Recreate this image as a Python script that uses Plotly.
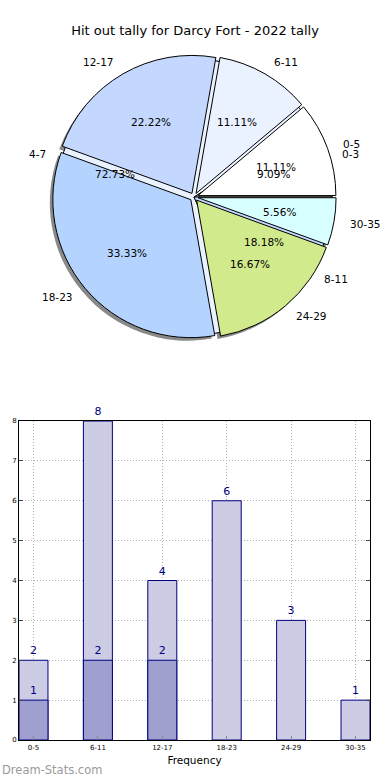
import math
import plotly.graph_objects as go

# ---------------- data ----------------
chart_title = "Hit out tally for Darcy Fort - 2022 tally"

pie1_labels = ["0-5", "6-11", "12-17", "18-23", "24-29", "30-35"]
pie1_values = [2, 2, 4, 6, 3, 1]

pie2_labels = ["0-3", "4-7", "8-11"]
pie2_values = [1, 8, 2]

bar_categories = ["0-5", "6-11", "12-17", "18-23", "24-29", "30-35"]
bar_totals = [2, 8, 4, 6, 3, 1]
bar_sub_categories = ["0-5", "6-11", "12-17"]
bar_sub_values = [1, 2, 2]
y_tick_values = [0, 1, 2, 3, 4, 5, 6, 7, 8]

x_axis_label = "Frequency"
watermark = "Dream-Stats.com"

# ---------------- styling / layout ----------------
W, H = 390, 780
CX, CY, R = 194, 197, 138          # pie centre and radius in pixels
PULL = 0.03
FONT = "DejaVu Sans"
pie_colors = ["#ffffff", "#eaf1ff", "#c4d8ff", "#b4d4ff", "#d0ea8c", "#d8ffff"]
light_bar = "#ccccE4"
dark_bar = "#a0a0d0"
navy = "#000080"


def dom(cx, cy, half):
    return dict(x=[(cx - half) / W, (cx + half) / W],
                y=[1 - (cy + half) / H, 1 - (cy - half) / H])


def mid_angles(values):
    total = sum(values)
    start, mids = 0.0, []
    for v in values:
        span = 360.0 * v / total
        mids.append(start + span / 2)
        start += span
    return mids


def start_rotation(values):
    # plotly (counterclockwise) puts the first slice clockwise of `rotation`;
    # shift so the first slice starts at 3 o'clock like matplotlib
    return 90 - 360.0 * values[0] / sum(values)


fig = go.Figure()

# shadow of the exploded pie
fig.add_trace(go.Pie(
    labels=pie1_labels, values=pie1_values, sort=False,
    direction="counterclockwise", rotation=start_rotation(pie1_values),
    pull=[PULL] * len(pie1_values),
    marker=dict(colors=["rgba(40,40,40,0.55)"] * len(pie1_values), line=dict(width=0)),
    textinfo="none", hoverinfo="skip", showlegend=False,
    domain=dom(CX - 3, CY + 3, R * (1 + PULL)),
))
# second (background) pie
fig.add_trace(go.Pie(
    labels=pie2_labels, values=pie2_values, sort=False,
    direction="counterclockwise", rotation=start_rotation(pie2_values),
    marker=dict(colors=pie_colors[:len(pie2_values)], line=dict(color="black", width=1)),
    textinfo="none", showlegend=False,
    domain=dom(CX, CY, R),
))
# main exploded pie
fig.add_trace(go.Pie(
    labels=pie1_labels, values=pie1_values, sort=False,
    direction="counterclockwise", rotation=start_rotation(pie1_values),
    pull=[PULL] * len(pie1_values),
    marker=dict(colors=pie_colors[:len(pie1_values)], line=dict(color="black", width=1)),
    textinfo="none", showlegend=False,
    domain=dom(CX, CY, R * (1 + PULL)),
))

annotations = []


def pie_texts(labels, values, pull):
    total = sum(values)
    for lab, v, m in zip(labels, values, mid_angles(values)):
        a = math.radians(m)
        c, s = math.cos(a), math.sin(a)
        d = (pull + 1.1) * R
        annotations.append(dict(
            x=(CX + d * c) / W, y=1 - (CY - d * s) / H, xref="paper", yref="paper",
            text=lab, showarrow=False, xanchor="left" if c > 0 else "right",
            yanchor="middle", font=dict(family=FONT, size=10.5, color="black")))
        d = (pull + 0.6) * R
        annotations.append(dict(
            x=(CX + d * c) / W, y=1 - (CY - d * s) / H, xref="paper", yref="paper",
            text=f"{100.0 * v / total:.2f}%", showarrow=False, xanchor="center",
            yanchor="middle", font=dict(family=FONT, size=10.5, color="black")))


pie_texts(pie1_labels, pie1_values, PULL)
pie_texts(pie2_labels, pie2_values, 0.0)

# ---------------- bars ----------------
fig.add_trace(go.Bar(
    x=bar_categories, y=bar_totals, width=0.45,
    marker=dict(color=light_bar, line=dict(color=navy, width=1)),
    text=[str(v) for v in bar_totals], textposition="outside",
    textfont=dict(family=FONT, size=11, color=navy),
    cliponaxis=False, constraintext="none", showlegend=False,
))
fig.add_trace(go.Bar(
    x=bar_sub_categories, y=bar_sub_values, width=0.45,
    marker=dict(color=dark_bar, line=dict(color=navy, width=1)),
    text=[str(v) for v in bar_sub_values], textposition="outside",
    textfont=dict(family=FONT, size=11, color=navy),
    cliponaxis=False, constraintext="none", showlegend=False,
))

annotations.append(dict(
    x=0, y=1 - 770 / H, xref="paper", yref="paper", text=watermark,
    showarrow=False, xanchor="left", yanchor="middle",
    font=dict(family=FONT, size=11.5, color="#9a9a9a")))

fig.update_layout(
    width=W, height=H,
    margin=dict(l=0, r=0, t=0, b=0),
    paper_bgcolor="white", plot_bgcolor="white",
    barmode="overlay",
    font=dict(family=FONT, color="black"),
    title=dict(text=chart_title, x=0.5, xanchor="center", y=1 - 30 / H,
               yanchor="middle", font=dict(family=FONT, size=13, color="black")),
    annotations=annotations,
    xaxis=dict(
        domain=[19 / W, 370 / W], type="category", categoryorder="array",
        categoryarray=bar_categories, range=[-0.225, len(bar_categories) - 1 + 0.225],
        showline=True, linecolor="black", linewidth=1, mirror=True,
        ticks="inside", ticklen=4, tickcolor="#888",
        showgrid=True, gridcolor="#b0b0b0", griddash="1px,2px", gridwidth=1,
        tickfont=dict(family=FONT, size=7, color="black"),
        ticklabelstandoff=1,
        title=dict(text=x_axis_label, standoff=5, font=dict(family=FONT, size=10.5)),
        automargin=False, anchor="y",
    ),
    yaxis=dict(
        domain=[1 - 740 / H, 1 - 421 / H], range=[0, 8],
        tickvals=y_tick_values, ticktext=[str(v) for v in y_tick_values],
        showline=True, linecolor="black", linewidth=1, mirror="ticks",
        ticks="inside", ticklen=4, tickcolor="#444",
        showgrid=True, gridcolor="#b0b0b0", griddash="1px,2px", gridwidth=1,
        zeroline=False,
        tickfont=dict(family=FONT, size=7, color="black"),
        automargin=False, anchor="x",
    ),
)

fig.write_html("out.html", config={"displayModeBar": False},
               post_script="document.body.style.margin='0';document.body.style.overflow='hidden';")
